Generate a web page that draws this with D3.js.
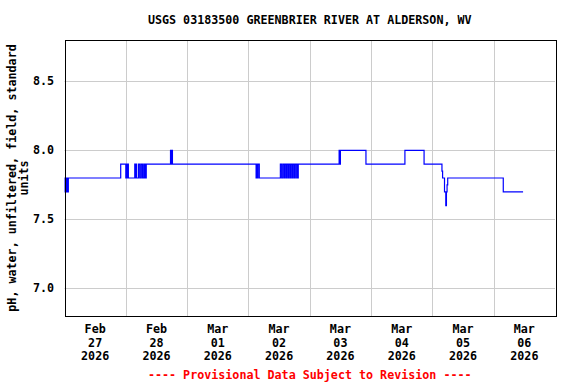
<!DOCTYPE html>
<html><head><meta charset="utf-8">
<script src="https://cdn.jsdelivr.net/npm/d3@7"></script>
<style>
body{margin:0;background:#fff;}
svg{display:block;}
text{font-family:"DejaVu Sans Mono",monospace;font-weight:bold;}
</style></head>
<body><svg id="c" width="576" height="384"></svg>
<script>
const title = "USGS 03183500 GREENBRIER RIVER AT ALDERSON, WV";
const yLabelLines = ["pH, water, unfiltered, field, standard", "units"];
const footer = "---- Provisional Data Subject to Revision ----";
const yTicks = [7.0, 7.5, 8.0, 8.5];
const yDomain = [6.8, 8.8];
const xDomain = ["2026-02-27T00:00", "2026-03-07T00:00"];
const xTickDays = ["2026-02-27","2026-02-28","2026-03-01","2026-03-02","2026-03-03","2026-03-04","2026-03-05","2026-03-06"];

// Change points of the 15-minute pH record (value holds until next point)
const obsTimes = [
 "02-27 00:00","02-27 00:15","02-27 00:30","02-27 00:45","02-27 01:00","02-27 01:15","02-27 01:30",
 "02-27 22:00",
 "02-28 00:00","02-28 00:15","02-28 00:30","02-28 00:45","02-28 01:00",
 "02-28 03:30","02-28 03:45","02-28 04:00","02-28 04:15","02-28 05:00","02-28 05:30","02-28 06:00","02-28 06:30",
 "02-28 07:00","02-28 07:15","02-28 07:30","02-28 07:45","02-28 08:00",
 "02-28 17:30","02-28 17:45","02-28 18:00","02-28 18:15",
 "03-02 03:00","03-02 03:15","03-02 03:30","03-02 03:45","03-02 04:15",
 "03-02 12:30","03-02 13:00","03-02 13:30","03-02 14:00","03-02 14:15","03-02 14:45","03-02 15:00","03-02 15:30",
 "03-02 15:45","03-02 16:15","03-02 16:30","03-02 17:00","03-02 17:15","03-02 17:45","03-02 18:00","03-02 18:30",
 "03-02 18:45","03-02 19:15","03-02 19:30",
 "03-03 11:30","03-03 11:45","03-03 12:00",
 "03-03 22:00",
 "03-04 13:15",
 "03-04 20:45",
 "03-05 03:45","03-05 04:00","03-05 04:15","03-05 04:45","03-05 05:15","03-05 05:30","03-05 05:45","03-05 06:00",
 "03-06 03:45",
 "03-06 11:30"
];
const obsValues = [
 7.8,7.7,7.8,7.7,7.8,7.7,7.8,
 7.9,
 7.8,7.9,7.8,7.9,7.8,
 7.9,7.8,7.9,7.8,7.9,7.8,7.9,7.8,
 7.9,7.8,7.9,7.8,7.9,
 8.0,7.9,8.0,7.9,
 7.8,7.9,7.8,7.9,7.8,
 7.9,7.8,7.9,7.8,7.9,7.8,7.9,7.8,
 7.9,7.8,7.9,7.8,7.9,7.8,7.9,7.8,
 7.9,7.8,7.9,
 8.0,7.9,8.0,
 7.9,
 8.0,
 7.9,
 7.85,7.8,7.8,7.7,7.6,7.7,7.75,7.8,
 7.7,
 7.7
];

const W = 576, H = 384;
const M = {left: 64.5, right: 555, top: 40, bottom: 316};
const svg = d3.select("#c");
const parseFull = d3.timeParse("%Y-%m-%dT%H:%M");
const parseDay = d3.timeParse("%Y-%m-%d");
const parseObs = d3.timeParse("%Y-%m-%d %H:%M");

const x = d3.scaleTime().domain(xDomain.map(parseFull)).range([M.left, M.right]);
const y = d3.scaleLinear().domain(yDomain).range([M.bottom, M.top]);

const data = obsTimes.map((t, i) => ({t: parseObs("2026-" + t), v: obsValues[i]}));

// gridlines
const days = d3.timeDay.range(x.domain()[0], x.domain()[1]).slice(1);
svg.append("g").selectAll("line").data(days).join("line")
  .attr("x1", d => Math.round(x(d)) + 0.5).attr("x2", d => Math.round(x(d)) + 0.5)
  .attr("y1", M.top).attr("y2", M.bottom)
  .attr("stroke", "#cccccc").attr("stroke-width", 1);
svg.append("g").selectAll("line").data(yTicks).join("line")
  .attr("x1", M.left).attr("x2", M.right)
  .attr("y1", d => Math.round(y(d)) + 0.5).attr("y2", d => Math.round(y(d)) + 0.5)
  .attr("stroke", "#cccccc").attr("stroke-width", 1);

// data line
const line = d3.line().x(d => x(d.t)).y(d => y(d.v)).curve(d3.curveStepAfter);
svg.append("path").datum(data).attr("d", line)
  .attr("fill", "none").attr("stroke", "#0000ff").attr("stroke-width", 1.2);

// frame
svg.append("rect").attr("x", Math.round(M.left) + 0.5).attr("y", M.top + 0.5)
  .attr("width", Math.round(M.right - M.left)).attr("height", M.bottom - M.top)
  .attr("fill", "none").attr("stroke", "#000").attr("stroke-width", 1);

const fs = 11.7;
// y tick labels
const fmtY = d3.format(".1f");
svg.append("g").selectAll("text").data(yTicks).join("text")
  .attr("x", 54).attr("y", d => y(d) + 4)
  .attr("text-anchor", "end").attr("font-size", fs).text(d => fmtY(d));

// x tick labels
const fM = d3.timeFormat("%b"), fD = d3.timeFormat("%d"), fYr = d3.timeFormat("%Y");
const xg = svg.append("g").selectAll("text").data(xTickDays.map(parseDay)).join("text")
  .attr("text-anchor", "middle").attr("font-size", fs);
xg.each(function(d){
  const cx = x(d3.timeHour.offset(d, 12));
  const t = d3.select(this);
  [fM(d), fD(d), fYr(d)].forEach((s, i) => {
    t.append("tspan").attr("x", cx).attr("y", 333 + i * 13.5).text(s);
  });
});

// title
svg.append("text").attr("x", (M.left + M.right) / 2).attr("y", 24)
  .attr("text-anchor", "middle").attr("font-size", fs).text(title);

// y axis label
yLabelLines.forEach((s, i) => {
  svg.append("text").attr("transform", `translate(${16 + i * 12},${(M.top + M.bottom) / 2}) rotate(-90)`)
    .attr("text-anchor", "middle").attr("font-size", fs).text(s);
});

// footer
svg.append("text").attr("x", (M.left + M.right) / 2).attr("y", 379)
  .attr("text-anchor", "middle").attr("font-size", fs).attr("fill", "#ff0000").text(footer);
</script></body></html>
